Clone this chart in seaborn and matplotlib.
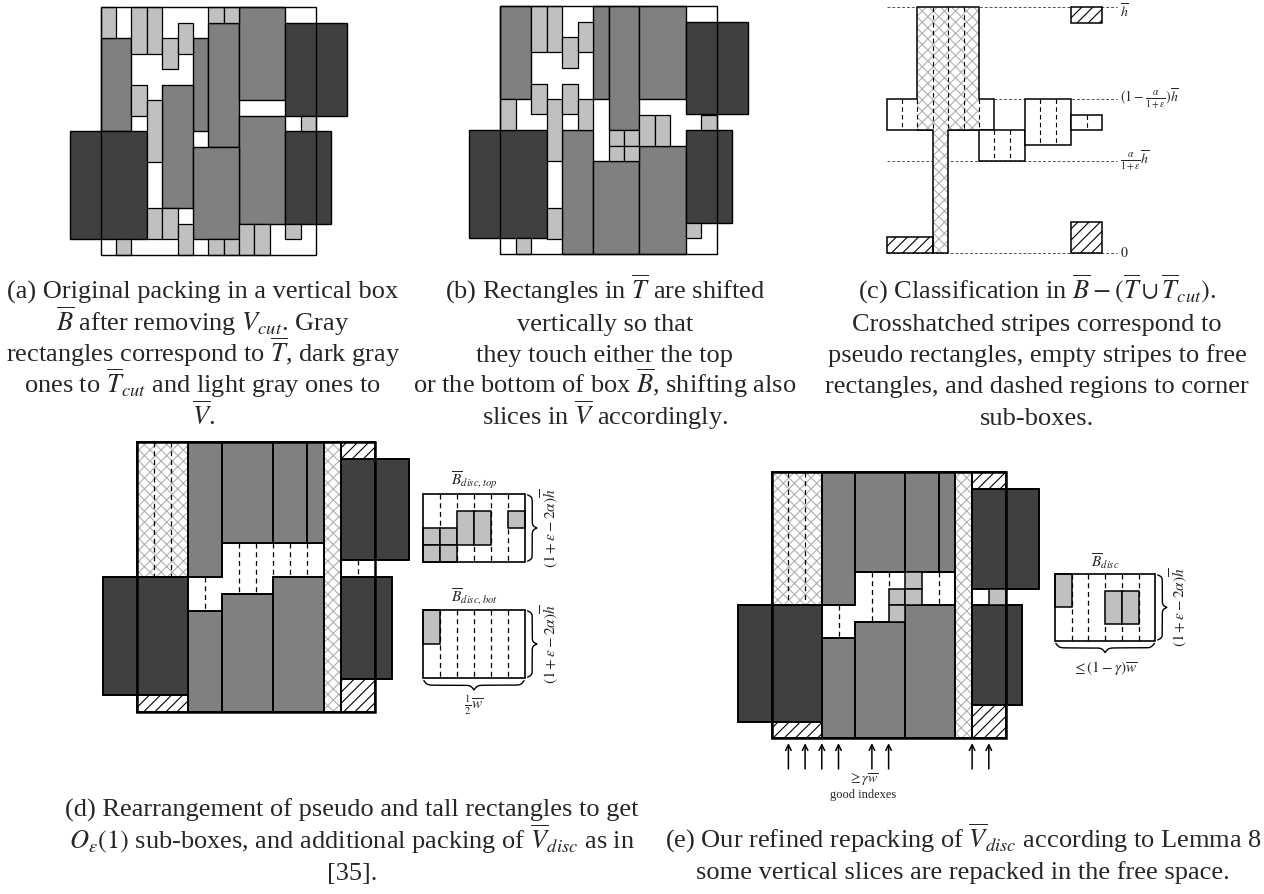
import numpy as np
import matplotlib
matplotlib.use("Agg")
import matplotlib.pyplot as plt
from matplotlib.patches import FancyArrowPatch
import seaborn as sns

# -------------------- colours --------------------
DARK = "#404040"     # T_cut
MID = "#808080"      # T (tall)
LIGHT = "#c0c0c0"    # V (vertical slices)
XGRAY = "#b0b0b0"    # crosshatch lines
# --------------------------------------------------

# every rectangle is (col, row, width, height) on a unit grid, rows counted from the top

# (a) original packing
A_TALL = [(8, 2, 1, 6), (9, 1, 2, 8), (11, 0, 3, 6), (11, 7, 3, 7), (2, 2, 2, 6), (6, 5, 2, 8), (8, 9, 3, 6)]
A_CUT = [(14, 1, 4, 6), (14, 8, 3, 6), (0, 8, 5, 7)]
A_SLICE = [(2, 0, 1, 2), (4, 0, 1, 3), (5, 0, 1, 3), (6, 2, 1, 2), (7, 1, 1, 2), (9, 0, 1, 1), (10, 0, 1, 1),
           (15, 7, 1, 1), (14, 14, 1, 1), (4, 5, 1, 2), (5, 6, 1, 4), (5, 13, 1, 2), (6, 13, 1, 2),
           (7, 14, 1, 2), (3, 15, 1, 1), (9, 15, 1, 1), (10, 15, 1, 1), (11, 14, 1, 2), (12, 14, 1, 2)]

# (b) after shifting
B_TALL = [(2, 0, 2, 6), (8, 0, 1, 6), (9, 0, 2, 8), (11, 0, 3, 6), (6, 8, 2, 8), (8, 10, 3, 6), (11, 9, 3, 7)]
B_CUT = [(14, 1, 4, 6), (14, 8, 3, 6), (0, 8, 5, 7)]
B_SLICE = [(4, 0, 1, 3), (5, 0, 1, 3), (6, 2, 1, 2), (7, 1, 1, 2), (15, 7, 1, 1), (14, 14, 1, 1), (2, 6, 1, 2),
           (4, 5, 1, 2), (5, 6, 1, 4), (6, 5, 1, 2), (7, 6, 1, 2), (9, 8, 1, 1), (10, 8, 1, 1), (9, 9, 1, 1),
           (10, 9, 1, 1), (11, 7, 1, 2), (12, 7, 1, 2), (5, 13, 1, 2), (3, 15, 1, 1)]

BOX = [(2, 0, 14, 16)]

# (c) classification
C_LEVELS = [0, 6, 10, 16]
C_LEVEL_LABELS = [r"$\overline{h}$", r"$(1-\frac{\alpha}{1+\epsilon})\overline{h}$",
                  r"$\frac{\alpha}{1+\varepsilon}\overline{h}$", r"$0$"]
C_FREE = [(0, 6, 7, 2), (6, 8, 3, 2), (9, 6, 3, 3), (12, 7, 2, 1)]
C_PSEUDO = [(2, 0, 4, 8), (3, 8, 1, 8)]
C_PSEUDO_EDGE_TOP = [(2, 6), (2, 0), (6, 0), (6, 6)]
C_PSEUDO_EDGE_BOT = [(2, 8), (3, 8), (3, 16), (4, 16), (4, 8), (6, 8)]
C_CORNER = [(12, 0, 2, 1), (12, 14, 2, 2), (0, 15, 3, 1)]
C_DASH = [(1, 6, 8), (2, 6, 8), (3, 0, 8), (4, 0, 8), (5, 0, 8), (6, 6, 8), (7, 8, 10), (8, 8, 10),
          (10, 6, 9), (11, 6, 9), (13, 7, 8)]

# (d) rearrangement, (e) refined repacking
D_TALL = [(5, 0, 2, 8), (7, 0, 3, 6), (10, 0, 2, 6), (12, 0, 1, 6), (5, 10, 2, 6), (7, 9, 3, 7), (10, 8, 3, 8)]
D_CUT = [(14, 1, 2, 6), (16, 1, 2, 6), (14, 8, 2, 6), (16, 8, 1, 6), (0, 8, 2, 7), (2, 8, 3, 7)]
D_PSEUDO = [(2, 0, 3, 8), (13, 0, 1, 16)]
D_CORNER = [(14, 0, 2, 1), (14, 14, 2, 2), (2, 15, 3, 1)]
D_DASH = [(3, 0, 8), (4, 0, 8), (8, 6, 9), (9, 6, 9), (10, 6, 8), (11, 6, 8), (12, 6, 8), (6, 8, 10), (15, 7, 8)]
E_SLICE = [(10, 6, 1, 1), (9, 7, 1, 1), (10, 7, 1, 1), (9, 8, 1, 1), (15, 7, 1, 1)]
E_DASH = [(3, 0, 8), (4, 0, 8), (8, 6, 9), (9, 6, 7), (12, 6, 8), (6, 8, 10)]
E_GOOD = [3, 4, 5, 6, 8, 9, 14, 15]

# side sub-boxes (6 x 4 cells)
SIDE_TOP = [(0, 2, 1, 1), (1, 2, 1, 1), (0, 3, 1, 1), (1, 3, 1, 1), (2, 1, 1, 2), (3, 1, 1, 2), (5, 1, 1, 1)]
SIDE_BOT = [(0, 0, 1, 2)]
SIDE_E = [(0, 0, 1, 2), (3, 1, 1, 2), (4, 1, 1, 2)]

CAP_A = ["(a) Original packing in a vertical box", r"$\overline{B}$ after removing $V_{cut}$. Gray",
         r"rectangles correspond to $\overline{T}$, dark gray", r"ones to $\overline{T}_{cut}$ and light gray ones to",
         r"$\overline{V}$."]
CAP_B = [r"(b) Rectangles in $\overline{T}$ are shifted", "vertically so that", "they touch either the top",
         r"or the bottom of box $\overline{B}$, shifting also", r"slices in $\overline{V}$ accordingly."]
CAP_C = [r"(c) Classification in $\overline{B}-(\overline{T}\cup\overline{T}_{cut})$.",
         "Crosshatched stripes correspond to", "pseudo rectangles, empty stripes to free",
         "rectangles, and dashed regions to corner", "sub-boxes."]
CAP_D = ["(d) Rearrangement of pseudo and tall rectangles to get",
         r"$O_\varepsilon(1)$ sub-boxes, and additional packing of $\overline{V}_{disc}$ as in", "[35]."]
CAP_E = [r"(e) Our refined repacking of $\overline{V}_{disc}$ according to Lemma 8",
         "some vertical slices are repacked in the free space."]

sns.set_theme(style="white")
plt.rcParams["font.family"] = ["Liberation Serif", "DejaVu Serif"]
plt.rcParams["mathtext.fontset"] = "stix"
plt.rcParams["hatch.linewidth"] = 0.8

W, H = 1264, 894
fig = plt.figure(figsize=(W / 100, H / 100), dpi=100)


def panel(ox, oy, ux, uy, cols, rows):
    """axes whose grid point (0,0) sits at pixel (ox, oy) with ux, uy pixels per cell"""
    c0, c1 = cols
    r0, r1 = rows
    ax = fig.add_axes([(ox + c0 * ux) / W, 1 - (oy + r1 * uy) / H,
                       (c1 - c0) * ux / W, (r1 - r0) * uy / H])
    ax.set_xlim(c0, c1)
    ax.set_ylim(r1, r0)
    ax.set_axis_off()
    return ax


def rects(ax, items, face, lw=1.0, edge="black", hatch=None, z=2):
    if not items:
        return
    c, r, w, h = map(list, zip(*items))
    ax.bar(c, h, width=w, bottom=r, align="edge", color=face, edgecolor=edge,
           linewidth=lw, hatch=hatch, zorder=z)


def pseudo(ax, items, lw, outline=True, z=2):
    rects(ax, items, "white", lw=0, edge=XGRAY, hatch="xxx", z=z)
    if outline:
        rects(ax, items, "none", lw=lw, z=z + 0.1)


def dashes(ax, items, lw=0.9, z=3):
    c, r0, r1 = map(list, zip(*items))
    ax.vlines(c, r0, r1, colors="black", linestyles=(0, (4, 3)), linewidth=lw, zorder=z)


def brace(ax, a, b, pos, depth, vertical=False, lw=1.0):
    t = np.linspace(0, 1, 301)
    half = np.minimum(t, 1 - t)
    k = 60.0
    f = 1 / (1 + np.exp(-k * half)) + 1 / (1 + np.exp(-k * (half - 0.5))) - 0.5
    along = a + t * (b - a)
    across = pos + f * depth
    if vertical:
        ax.plot(across, along, color="black", lw=lw, solid_capstyle="round")
    else:
        ax.plot(along, across, color="black", lw=lw, solid_capstyle="round")


# ---------------- (a) and (b) ----------------
for ox, oy, ux, uy, tall, cut, sl in [(70, 7.3, 15.37, 15.47, A_TALL, A_CUT, A_SLICE),
                                      (469.3, 6.0, 15.47, 15.5, B_TALL, B_CUT, B_SLICE)]:
    ax = panel(ox, oy, ux, uy, (-0.3, 18.3), (-0.3, 16.3))
    rects(ax, tall, MID, lw=1.0)
    rects(ax, cut, DARK, lw=1.0)
    rects(ax, sl, LIGHT, lw=0.9)
    rects(ax, BOX, "none", lw=1.0, z=5)

# ---------------- (c) ----------------
ax = panel(886.7, 7.3, 15.37, 15.33, (-0.3, 18.6), (-0.6, 16.6))
ax.hlines(C_LEVELS, 0, 15, colors="#555555", linestyles=(0, (3, 2)), linewidth=0.7, zorder=0)
for lev, lab in zip(C_LEVELS, C_LEVEL_LABELS):
    ax.text(15.15, max(lev, 0.3), lab, ha="left", va="center", fontsize=10)
rects(ax, C_FREE, "white", lw=1.1)
pseudo(ax, C_PSEUDO, 1.1, outline=False)
for edge in (C_PSEUDO_EDGE_TOP, C_PSEUDO_EDGE_BOT):
    ex, ey = zip(*edge)
    ax.plot(ex, ey, color="black", lw=1.1, zorder=4)
dashes(ax, C_DASH, lw=0.8)
rects(ax, C_CORNER, "white", lw=1.1, hatch="///")

# ---------------- (d) and (e) ----------------
for ox, oy, u, sl, dl in [(102.7, 441.7, 17.0, [], D_DASH), (738.3, 472.3, 16.7, E_SLICE, E_DASH)]:
    ax = panel(ox, oy, u, u * 0.995, (-0.3, 18.3), (-0.3, 20.0))
    rects(ax, D_TALL, MID, lw=1.4)
    rects(ax, D_CUT, DARK, lw=1.4)
    pseudo(ax, D_PSEUDO, 1.4)
    rects(ax, D_CORNER, "white", lw=1.4, hatch="///")
    dashes(ax, dl, lw=0.9)
    rects(ax, sl, LIGHT, lw=1.1, z=4)
    rects(ax, BOX, "none", lw=1.8, z=5)
    if sl:
        for c in E_GOOD:
            ax.add_patch(FancyArrowPatch((c, 17.85), (c, 16.3), arrowstyle="->", mutation_scale=10,
                                         lw=1.1, color="black", shrinkA=0, shrinkB=0,
                                         clip_on=False, zorder=6))
        ax.text(7.5, 18.5, r"$\geq\gamma\overline{w}$", ha="center", va="center", fontsize=10)
        ax.text(7.5, 19.4, "good indexes", ha="center", va="center", fontsize=9)

# side sub-boxes
SIDES = [(423, 494, 17.0, SIDE_TOP, r"$\overline{B}_{disc,top}$", None),
         (423, 610, 17.0, SIDE_BOT, r"$\overline{B}_{disc,bot}$", r"$\frac{1}{2}\overline{w}$"),
         (1055, 574, 16.7, SIDE_E, r"$\overline{B}_{disc}$", r"$\leq(1-\gamma)\overline{w}$")]
for ox, oy, u, sl, name, wlab in SIDES:
    ax = panel(ox, oy, u, u, (-0.5, 8.5), (-2.0, 6.5))
    dashes(ax, [(c, 0, 4) for c in range(1, 6)], lw=0.9, z=1)
    rects(ax, sl, LIGHT, lw=1.1)
    rects(ax, [(0, 0, 6, 4)], "none", lw=1.2, z=5)
    ax.text(3, -0.2, name, ha="center", va="bottom", fontsize=11)
    brace(ax, 0.05, 3.95, 6.15, 0.55, vertical=True)
    ax.text(7.45, 2, r"$(1+\varepsilon-2\alpha)\overline{h}$", rotation=90, ha="center", va="center", fontsize=11)
    if wlab:
        brace(ax, 0.05, 5.95, 4.15, 0.55)
        ax.text(3, 5.6, wlab, ha="center", va="center", fontsize=11)

# ---------------- captions ----------------
tx = fig.add_axes([0, 0, 1, 1], zorder=-1)
tx.set_xlim(0, W)
tx.set_ylim(H, 0)
tx.set_axis_off()
for cx, base, lines in [(203, 299, CAP_A), (605, 299, CAP_B), (1037, 299, CAP_C),
                        (352, 817, CAP_D), (963, 848, CAP_E)]:
    for i, line in enumerate(lines):
        tx.text(cx, base + i * 31.5, line, ha="center", va="baseline", fontsize=19)

fig.savefig("out.png", dpi=100)
